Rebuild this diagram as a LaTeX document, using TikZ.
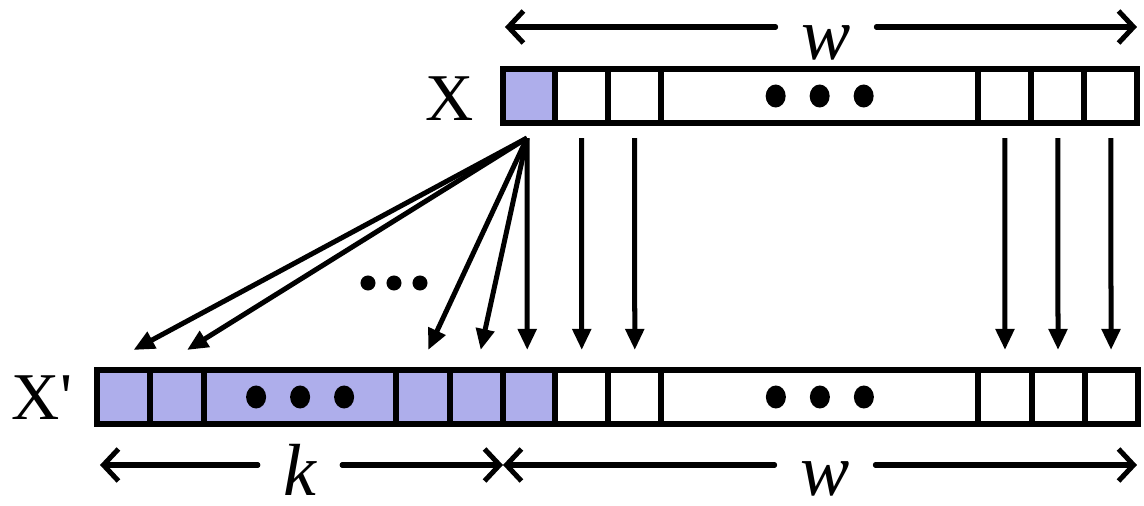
\documentclass[tikz,border=0pt]{standalone}
\usepackage{fontspec}
\newfontfamily\labelfont{Liberation Serif}
\usepackage{tikz}
\usetikzlibrary{arrows.meta,positioning,calc}
\definecolor{lilac}{RGB}{174,174,235}

\begin{document}
\begin{tikzpicture}[x=0.01cm,y=-0.01cm,
  cell/.style={draw, line width=0.06cm, minimum width=#1, minimum height=0.54cm, inner sep=0pt, outer sep=0pt},
  cell/.default=0.53cm,
  hot/.style={fill=lilac},
  rowname/.style={font=\labelfont\fontsize{19}{19}\selectfont, inner sep=0pt},
  dimlabel/.style={font=\labelfont\itshape\fontsize{21}{21}\selectfont, inner xsep=0.25cm, inner ysep=0pt, anchor=base},
  link/.style={-{Triangle[length=0.21cm,width=0.18cm]}, line width=0.05cm},
  dim/.style={-{Straight Barb[length=0.15cm,width=0.32cm]}, line width=0.05cm, line cap=round}]
\useasboundingbox (0,0) rectangle (1144,506);
% input row
\node[cell=0.52cm, hot] (x0) at (529,96) {};
\node[cell, right=0pt of x0] (x1) {};
\node[cell, right=0pt of x1] (x2) {};
\node[cell=3.17cm, right=0pt of x2] (xd) {};
\node[cell, right=0pt of xd] (x3) {};
\node[cell, right=0pt of x3] (x4) {};
\node[cell, right=0pt of x4] (x5) {};
\node[rowname] (lx) at (450,99) {X};
% output row
\node[cell, hot] (y0) at (123.5,397) {};
\node[cell=0.54cm, hot, right=0pt of y0] (y1) {};
\node[cell=1.92cm, hot, right=0pt of y1] (yd) {};
\node[cell=0.54cm, hot, right=0pt of yd] (y2) {};
\node[cell, hot, right=0pt of y2] (y3) {};
\node[cell=0.52cm, hot, right=0pt of y3] (y4) {};
\node[cell, right=0pt of y4] (z1) {};
\node[cell, right=0pt of z1] (z2) {};
\node[cell=3.17cm, right=0pt of z2] (zd) {};
\node[cell, right=0pt of zd] (z3) {};
\node[cell, right=0pt of z3] (z4) {};
\node[cell, right=0pt of z4] (z5) {};
\node[rowname] (ly) at (42,398) {X\symbol{39}};
\foreach \c in {xd,yd,zd}
  \foreach \d in {-44,0,44}
    \fill ($(\c)+(\d,0)$) ellipse [x radius=0.1cm, y radius=0.115cm];
% connections
\coordinate (src) at ($(x0.south)+(-2,15)$);
\foreach \t/\dx in {y0/10,y1/10,y2/5,y3/4,y4/-2}
  \draw[link] (src) -- ($(\t.north)+(\dx,-20)$);
\foreach \a/\b in {x1/z1,x2/z2,x3/z3,x4/z4,x5/z5}
  \draw[link] ($(\a.south)+(0,15)$) -- ($(\b.north)+(0,-20)$);
\coordinate (mid) at (394,283);
\foreach \d in {-26,0,26}
  \fill ($(mid)+(\d,0)$) circle (0.075cm);
% widths
\coordinate (tl) at (505,27);
\coordinate (tr) at (1137,27);
\coordinate (kl) at (100,465);
\coordinate (km) at (503,465);
\coordinate (wr) at (1137,465);
\node[dimlabel] (wt) at (826,59) {w};
\node[dimlabel] (kb) at (300,495) {k};
\node[dimlabel] (wb) at (825,495) {w};
\draw[dim] (wt.west |- tl) -- (tl);
\draw[dim] (wt.east |- tr) -- (tr);
\draw[dim] (kb.west |- kl) -- (kl);
\draw[dim] (kb.east |- km) -- (km);
\draw[dim] (wb.west |- km) -- (km);
\draw[dim] (wb.east |- wr) -- (wr);
\end{tikzpicture}
\end{document}
